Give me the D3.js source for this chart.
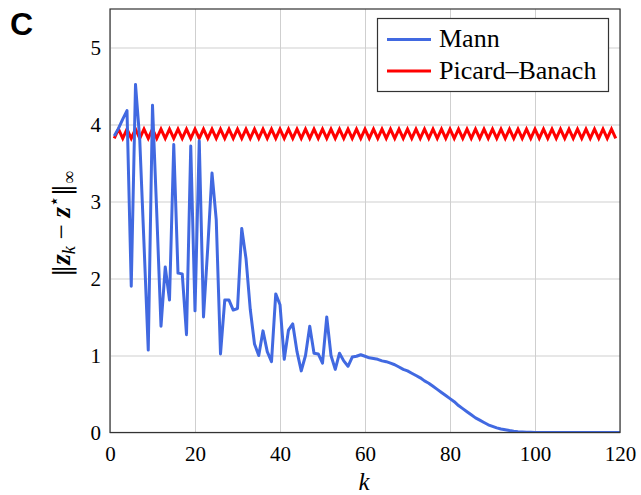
<!DOCTYPE html>
<html>
<head>
<meta charset="utf-8">
<script src="https://cdn.jsdelivr.net/npm/d3@7"></script>
<style>
  html, body { margin: 0; padding: 0; background: #fff; }
  svg { display: block; }
</style>
</head>
<body>
<div id="chart"></div>
<script>
// ---- data ----
const mannK = d3.range(1, 121);
const mannValues = [
  3.85, 3.95, 4.07, 4.18, 1.90, 4.52, 3.80, 2.45, 1.07, 4.25,
  2.85, 1.38, 2.15, 1.72, 3.74, 2.07, 2.06, 1.27, 3.72, 1.58,
  3.79, 1.50, 2.40, 3.37, 2.76, 1.02, 1.72, 1.72, 1.59, 1.61,
  2.65, 2.26, 1.60, 1.15, 1.00, 1.32, 1.05, 0.92, 1.80, 1.66,
  0.95, 1.33, 1.41, 1.05, 0.80, 1.00, 1.38, 1.03, 1.02, 0.90,
  1.50, 1.00, 0.82, 1.03, 0.93, 0.86, 0.98, 0.99, 1.01, 0.99,
  0.97, 0.96, 0.95, 0.93, 0.92, 0.90, 0.88, 0.85, 0.82, 0.80,
  0.77, 0.74, 0.71, 0.67, 0.64, 0.60, 0.56, 0.52, 0.48, 0.44,
  0.40, 0.35, 0.31, 0.27, 0.23, 0.19, 0.16, 0.13, 0.10, 0.08,
  0.06, 0.045, 0.035, 0.025, 0.017, 0.011, 0.007, 0.004, 0.002, 0.001,
  0, 0, 0, 0, 0, 0, 0, 0, 0, 0,
  0, 0, 0, 0, 0, 0, 0, 0, 0, 0
];
const picardK = d3.range(1, 120);
const picardValues = [
  3.82, 3.94, 3.82, 3.94, 3.82, 3.94, 3.82, 3.94, 3.82, 3.94,
  3.82, 3.94, 3.82, 3.94, 3.82, 3.94, 3.82, 3.94, 3.82, 3.94,
  3.82, 3.94, 3.82, 3.94, 3.82, 3.94, 3.82, 3.94, 3.82, 3.94,
  3.82, 3.94, 3.82, 3.94, 3.82, 3.94, 3.82, 3.94, 3.82, 3.94,
  3.82, 3.94, 3.82, 3.94, 3.82, 3.94, 3.82, 3.94, 3.82, 3.94,
  3.82, 3.94, 3.82, 3.94, 3.82, 3.94, 3.82, 3.94, 3.82, 3.94,
  3.82, 3.94, 3.82, 3.94, 3.82, 3.94, 3.82, 3.94, 3.82, 3.94,
  3.82, 3.94, 3.82, 3.94, 3.82, 3.94, 3.82, 3.94, 3.82, 3.94,
  3.82, 3.94, 3.82, 3.94, 3.82, 3.94, 3.82, 3.94, 3.82, 3.94,
  3.82, 3.94, 3.82, 3.94, 3.82, 3.94, 3.82, 3.94, 3.82, 3.94,
  3.82, 3.94, 3.82, 3.94, 3.82, 3.94, 3.82, 3.94, 3.82, 3.94,
  3.82, 3.94, 3.82, 3.94, 3.82, 3.94, 3.82, 3.94, 3.82
];
const xTicks = [0, 20, 40, 60, 80, 100, 120];
const yTicks = [0, 1, 2, 3, 4, 5];
const seriesNames = ["Mann", "Picard–Banach"];
const seriesColors = ["#4169E1", "#FF0000"];

// ---- layout ----
const W = 641, H = 495;
const L = 110, R = 620, T = 9, B = 432.5;
const SERIF = "'Liberation Serif', 'Times New Roman', serif";

const svg = d3.select("#chart").append("svg")
  .attr("width", W).attr("height", H);

const x = d3.scaleLinear().domain([0, 120]).range([L, R]);
const y = d3.scaleLinear().domain([0, 5.5]).range([B, T]);

svg.append("defs").append("clipPath").attr("id", "clip")
  .append("rect").attr("x", L).attr("y", T).attr("width", R - L).attr("height", B - T);

// grid
const gx = svg.append("g").attr("transform", `translate(0,${B})`)
  .call(d3.axisBottom(x).tickValues(xTicks).tickSize(-(B - T)).tickFormat(""));
gx.select(".domain").remove();
gx.selectAll("line").attr("stroke", "#cfcfcf").attr("stroke-width", 1);

const gy = svg.append("g").attr("transform", `translate(${L},0)`)
  .call(d3.axisLeft(y).tickValues(yTicks).tickSize(-(R - L)).tickFormat(""));
gy.select(".domain").remove();
gy.selectAll("line").attr("stroke", "#cfcfcf").attr("stroke-width", 1);

// tick labels
const xl = svg.append("g").attr("transform", `translate(0,${B})`)
  .call(d3.axisBottom(x).tickValues(xTicks).tickSize(0).tickPadding(0).tickFormat(d3.format("d")));
xl.attr("font-family", null).attr("font-size", null);
xl.select(".domain").remove();
xl.selectAll("text").style("font-family", SERIF).style("font-size", "21px")
  .attr("fill", "#000").attr("dy", null).attr("y", 28);

const yl = svg.append("g").attr("transform", `translate(${L},0)`)
  .call(d3.axisLeft(y).tickValues(yTicks).tickSize(0).tickPadding(9).tickFormat(d3.format("d")));
yl.attr("font-family", null).attr("font-size", null);
yl.select(".domain").remove();
yl.selectAll("text").style("font-family", SERIF).style("font-size", "21px")
  .attr("fill", "#000").attr("dy", "0.34em");

// lines
const line = d3.line().x(d => x(d[0])).y(d => y(d[1]));
const plot = svg.append("g").attr("clip-path", "url(#clip)");
plot.append("path")
  .datum(picardK.map((k, i) => [k, picardValues[i]]))
  .attr("d", line).attr("fill", "none").attr("stroke", seriesColors[1])
  .attr("stroke-width", 3).attr("stroke-linejoin", "miter").attr("stroke-miterlimit", 4);
plot.append("path")
  .datum(mannK.map((k, i) => [k, mannValues[i]]))
  .attr("d", line).attr("fill", "none").attr("stroke", seriesColors[0])
  .attr("stroke-width", 3).attr("stroke-linejoin", "round");

// frame
svg.append("rect").attr("x", L).attr("y", T).attr("width", R - L).attr("height", B - T)
  .attr("fill", "none").attr("stroke", "#333").attr("stroke-width", 1.2);

// legend
const lg = svg.append("g");
lg.append("rect").attr("x", 377.5).attr("y", 18.5).attr("width", 231).attr("height", 73)
  .attr("fill", "#fff").attr("stroke", "#333").attr("stroke-width", 1.2);
seriesNames.forEach((name, i) => {
  const yy = 39.5 + i * 31.5;
  lg.append("line").attr("x1", 387).attr("x2", 431).attr("y1", yy).attr("y2", yy)
    .attr("stroke", seriesColors[i]).attr("stroke-width", 3);
  lg.append("text").attr("x", 439).attr("y", yy + 7.5)
    .style("font-family", SERIF).style("font-size", "26px")
    .attr("fill", "#000").text(name);
});

// axis labels
svg.append("text").attr("x", 364).attr("y", 490).attr("text-anchor", "middle")
  .style("font-family", SERIF).style("font-size", "25px")
  .style("font-style", "italic").text("k");

const yt = svg.append("text").attr("transform", "translate(70,224) rotate(-90)")
  .attr("text-anchor", "middle")
  .style("font-family", SERIF).style("font-size", "27px").attr("fill", "#000");
yt.append("tspan").style("font-family", "'DejaVu Serif', serif").style("font-size", "24px").text("‖");
yt.append("tspan").style("font-style", "italic").style("font-weight", "bold").text("z");
yt.append("tspan").style("font-style", "italic").style("font-size", "18px").attr("dy", 5).text("k");
yt.append("tspan").attr("dy", -5).text(" − ");
yt.append("tspan").style("font-style", "italic").style("font-weight", "bold").text("z");
yt.append("tspan").style("font-size", "18px").attr("dy", -10).text("⋆");
yt.append("tspan").style("font-family", "'DejaVu Serif', serif").style("font-size", "24px").attr("dy", 10).text("‖");
yt.append("tspan").style("font-size", "18px").attr("dy", 5).text("∞");

// panel letter
svg.append("text").attr("x", 10).attr("y", 35)
  .style("font-family", "'Liberation Sans', Arial, sans-serif").style("font-weight", "bold")
  .style("font-size", "32px").attr("fill", "#000").text("C");
</script>
</body>
</html>
